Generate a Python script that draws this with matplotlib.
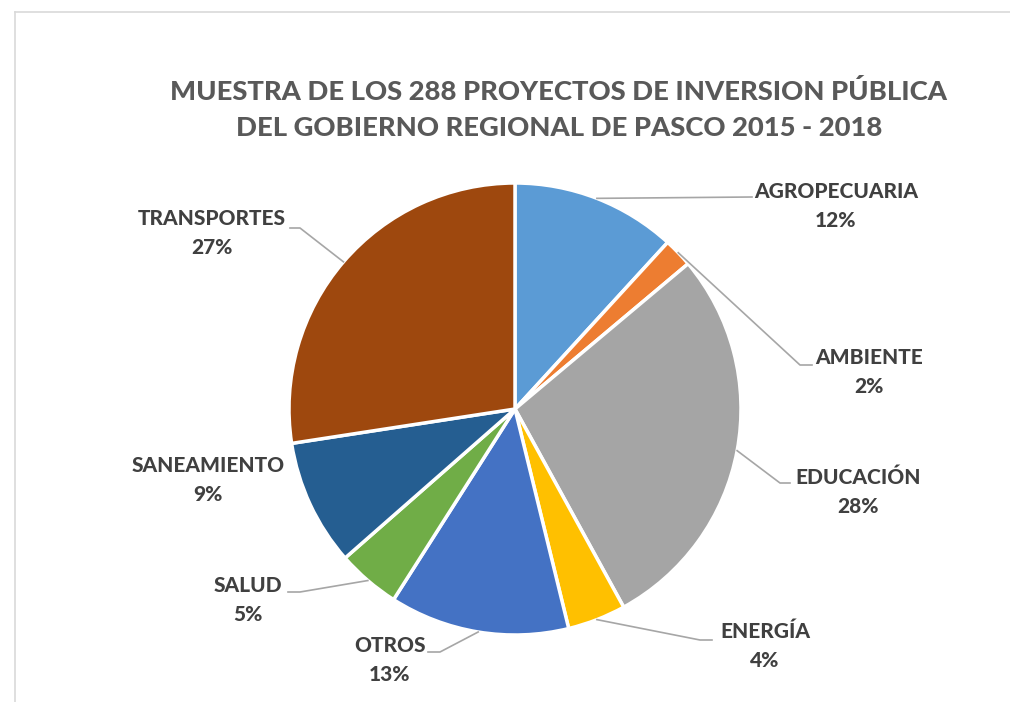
import numpy as np
import matplotlib
matplotlib.use("Agg")
import matplotlib.pyplot as plt

categorias = ["AGROPECUARIA", "AMBIENTE", "EDUCACIÓN", "ENERGÍA",
              "OTROS", "SALUD", "SANEAMIENTO", "TRANSPORTES"]
proyectos = [34, 6, 81, 12, 37, 13, 26, 79]
colores = ["#5B9BD5", "#ED7D31", "#A5A5A5", "#FFC000",
           "#4472C4", "#70AD47", "#255E91", "#9E480E"]

titulo = "MUESTRA DE LOS 288 PROYECTOS DE INVERSION PÚBLICA\nDEL GOBIERNO REGIONAL DE PASCO 2015 - 2018"

# layout (pixel coords, y measured from top)
W, H = 1010, 702
cx, cy, R = 515, 409, 226
label_pos = [(836, 206), (869, 372), (858, 492), (765, 646),
             (390, 660), (248, 600), (208, 480), (212, 233)]
# elbow of the leader line (None = no leader)
elbows = [[(752, 197)], [(800, 365), (812, 365)], [(780, 483), (790, 483)],
          [(700, 640), (712, 640)], [(440, 652), (428, 652)],
          [(300, 592), (288, 592)], None, [(300, 228), (290, 228)]]

plt.rcParams['font.family'] = ['Lato', 'DejaVu Sans']

fig = plt.figure(figsize=(W / 100, H / 100), dpi=100)
ax = fig.add_axes([0, 0, 1, 1])

wedges, _ = ax.pie(proyectos, colors=colores, startangle=90, counterclock=False,
                   radius=R, center=(cx, H - cy),
                   wedgeprops=dict(edgecolor="white", linewidth=2.5))
ax.set_xlim(0, W)
ax.set_ylim(0, H)
ax.set_aspect("equal")
ax.axis("off")

total = sum(proyectos)
for w, name, n, pos, elb in zip(wedges, categorias, proyectos, label_pos, elbows):
    pct = "{:.0f}%".format(100 * n / total)
    ax.text(pos[0], H - pos[1], name + "\n" + pct, ha="center", va="center",
            fontsize=15, fontweight=900, color="#404040", linespacing=1.65)
    if elb is None:
        continue
    ang = np.deg2rad((w.theta1 + w.theta2) / 2)
    x0 = cx + R * np.cos(ang)
    y0 = (H - cy) + R * np.sin(ang)
    xs = [x0] + [p[0] for p in elb]
    ys = [y0] + [H - p[1] for p in elb]
    ax.plot(xs, ys, color="#A6A6A6", lw=1.2)

fig.text(559 / W, 1 - 109 / H, titulo, ha="center", va="center",
         fontsize=19.7, fontweight=900, color="#595959", linespacing=1.6)

# chart area border (partially visible)
ax.plot([15, W], [H - 12, H - 12], color="#D9D9D9", lw=1.2)
ax.plot([15, 15], [0, H - 12], color="#D9D9D9", lw=1.2)

fig.savefig("out.png", dpi=100, facecolor="white")
